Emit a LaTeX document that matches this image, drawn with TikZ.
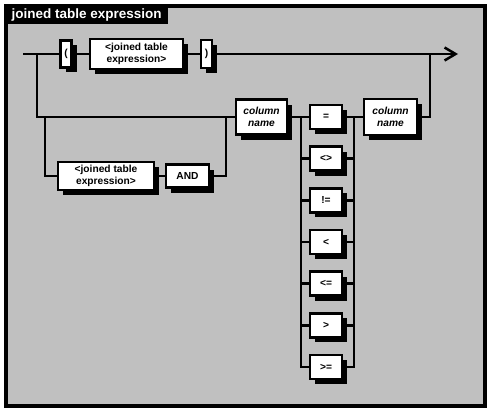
\documentclass[tikz,border=0pt]{standalone}
\usepackage{fontspec}
\setmainfont{Liberation Sans}
\usetikzlibrary{positioning,arrows.meta,shadows}
\definecolor{panelclr}{RGB}{192,192,192}
\tikzset{
  term/.style={rectangle,draw=black,line width=2.5pt,fill=white,inner sep=1pt,
               align=center,font=\bfseries\fontsize{10.2}{12}\selectfont,
               drop shadow={shadow xshift=5pt,shadow yshift=-5pt,fill=black,opacity=1}},
  colref/.style={term,font=\bfseries\itshape\fontsize{10.2}{12}\selectfont},
  opbox/.style={term,minimum width=32pt,minimum height=24pt},
  rail/.style={line width=2.5pt},
  titlebar/.style={fill=black,text=white,anchor=north west,inner xsep=4pt,
                   minimum width=163pt,minimum height=17pt,
                   font=\bfseries\fontsize{13.5}{15}\selectfont},
}

\begin{document}
\begin{tikzpicture}[x=1pt,y=-1pt]
\useasboundingbox (0,0) rectangle (490,412);
\draw[line width=3.5pt,fill=panelclr] (6,6) rectangle (485,406);
\node[titlebar] (title) at (5,5) {joined table expression};

% top track
\node[term,minimum width=11pt,minimum height=27pt] (lpar) at (66,54) {(};
\node[term,minimum width=93pt,minimum height=30pt] (jte1) at (136.5,54) {<joined table\\expression>};
\node[term,minimum width=11pt,minimum height=28pt] (rpar) at (206.5,54) {)};

% comparison track
\node[colref,minimum width=51pt,minimum height=35pt] (col1) at (261.5,117) {column\\name};
\node[colref,minimum width=53pt,minimum height=36pt] (col2) at (390.5,117) {column\\name};
\node[term,minimum width=96pt,minimum height=28pt] (jte2) at (106,176) {<joined table\\expression>};
\node[term,minimum width=43pt,minimum height=23pt] (and) at (187.5,176) {AND};
\foreach \op [count=\i] in {=,<>,!=,<,<=,>,>=}
  \node[opbox] (op\i) at (326,{117+41.67*(\i-1)}) {\op};

\coordinate (start) at (23,54);
\coordinate (fork) at (37,54);
\coordinate (stop) at (458,54);
\coordinate (back) at (430,54);
\coordinate (loopin) at (45,117);
\coordinate (loopout) at (226,117);
\coordinate (lbar) at (301,117);
\coordinate (rbar) at (354,117);

\draw[rail] (start) -- (lpar) -- (jte1) -- (rpar);
\draw[rail,-{Straight Barb[length=11pt,width=13pt]}] (rpar) -- (stop);
\draw[rail] (fork) |- (col1);
\draw[rail] (loopin) |- (jte2) -- (and) -| (loopout);
\draw[rail] (col1) -- (op1);
\draw[rail] (lbar) |- (op7);
\draw[rail] (rbar) |- (op7);
\foreach \i in {1,...,7}
  \draw[rail] (lbar |- op\i) -- (op\i) -- (rbar |- op\i);
\draw[rail] (rbar) -- (col2) -| (back);
\end{tikzpicture}
\end{document}
